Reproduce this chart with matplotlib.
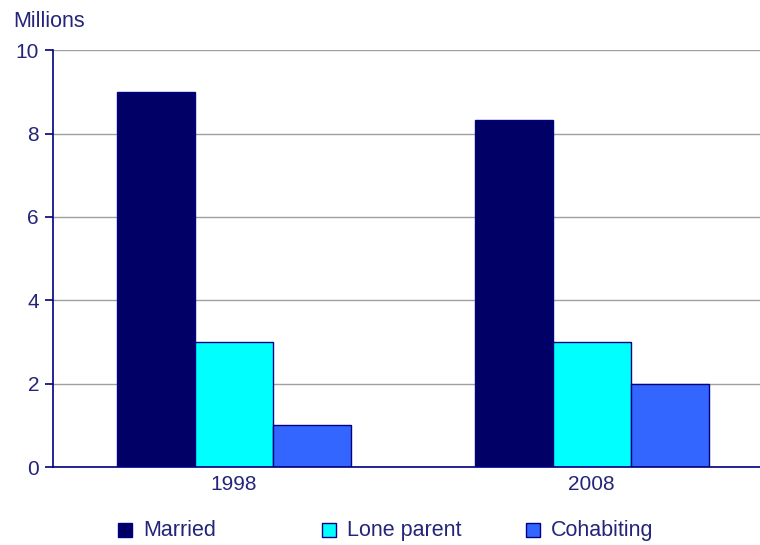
import matplotlib.pyplot as plt
from matplotlib.patches import Rectangle
import numpy as np

plt.rcParams["font.family"] = ["Liberation Sans", "DejaVu Sans"]

years = ["1998", "2008"]
series = ["Married", "Lone parent", "Cohabiting"]
married = [9.0, 8.33]
lone_parent = [3.0, 3.0]
cohabiting = [1.0, 2.0]

colors = ["#000066", "#00ffff", "#3366ff"]
edge = "#000080"
text_col = "#24247a"

fig = plt.figure(figsize=(7.6, 5.45), dpi=100)
ax = fig.add_axes([0.0697, 0.143, 0.93, 0.765])

x = np.arange(len(years))
width = 0.218
for i, (vals, c) in enumerate(zip([married, lone_parent, cohabiting], colors)):
    ax.bar(x + (i - 1) * width, vals, width, color=c, edgecolor=edge,
           linewidth=1.0, zorder=3)

ax.set_ylim(0, 10)
ax.set_xlim(-0.505, 1.47)
ax.set_yticks([0, 2, 4, 6, 8, 10])
ax.set_xticks(x)
ax.set_xticklabels(years)
ax.tick_params(axis="y", colors=edge, labelcolor=text_col, labelsize=15,
               length=6, width=1.2, pad=4)
ax.tick_params(axis="x", length=0, labelcolor=text_col, labelsize=15, pad=6)
ax.yaxis.grid(True, color="#a0a0a0", linewidth=1.0, zorder=0)

for s in ["top", "right"]:
    ax.spines[s].set_visible(False)
for s in ["left", "bottom"]:
    ax.spines[s].set_color(edge)
    ax.spines[s].set_linewidth(1.2)
    ax.spines[s].set_zorder(4)

fig.text(0.018, 0.942, "Millions", color=text_col, fontsize=15.5,
         ha="left", va="bottom")

# legend placed by hand, evenly spaced along the bottom
legend_x = [0.155, 0.424, 0.692]
for lx, name, c in zip(legend_x, series, colors):
    fig.patches.append(Rectangle((lx, 0.0147), 0.0184, 0.0257,
                                 transform=fig.transFigure, facecolor=c,
                                 edgecolor=edge, linewidth=1.0))
    fig.text(lx + 0.033, 0.0275, name, color=text_col, fontsize=15.5,
             ha="left", va="center")

fig.savefig("out.png", dpi=100)
